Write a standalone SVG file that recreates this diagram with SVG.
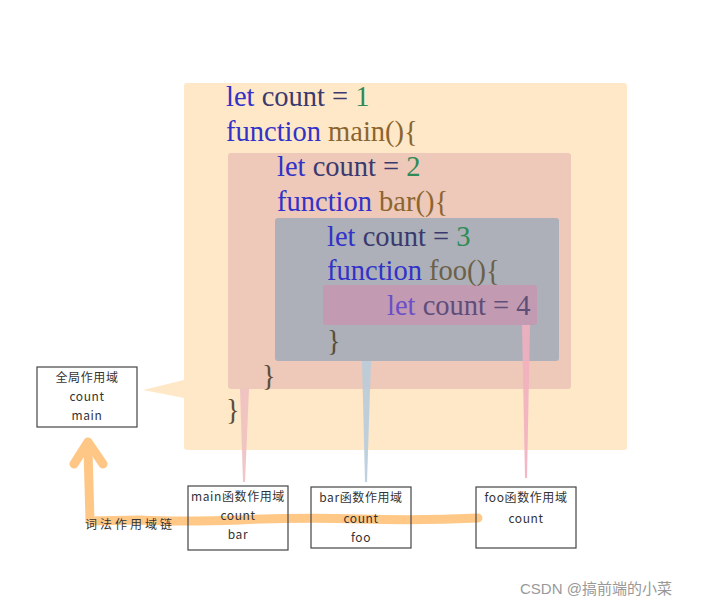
<svg xmlns="http://www.w3.org/2000/svg" width="726" height="608" viewBox="0 0 726 608">
<style>
.code{font-family:"Liberation Serif","Times New Roman",serif;font-size:28.5px}
.kw{fill:#3232C8}
.var{fill:#3A3A6E}
.num{fill:#2E8B57}
.fn{fill:#8B6530}
.br{fill:#5A4E3A}
.hand{font-family:"Noto Sans CJK SC",sans-serif;font-size:12px;fill:#333;text-anchor:middle;letter-spacing:0.6px}
.box{fill:none;stroke:#444;stroke-width:1.2}
</style>
<rect width="726" height="608" fill="#fff"/>
<g id="global-scope">
<rect x="184" y="83" width="443" height="367" rx="3" fill="#FFE8C8"/>
<polygon points="184,380 184,398 143,390" fill="#FFE8C8"/>
</g>
<g id="main-scope">
<rect x="228" y="153" width="343" height="236" rx="3" fill="#EEC8B8"/>
</g>
<g id="bar-scope">
<rect x="275" y="218" width="284" height="143" rx="3" fill="#ADB0B8"/>
</g>
<g id="foo-scope">
<rect x="323" y="285" width="214" height="40" rx="3" fill="#C29AB2"/>
</g>
<g id="code" class="code">
<text x="226" y="106"><tspan class="kw">let</tspan><tspan class="var"> count = </tspan><tspan class="num">1</tspan></text>
<text x="226" y="141"><tspan class="kw">function</tspan><tspan class="fn"> main(){</tspan></text>
<text x="277" y="176"><tspan class="kw">let</tspan><tspan class="var"> count = </tspan><tspan class="num">2</tspan></text>
<text x="277" y="211"><tspan class="kw">function</tspan><tspan class="fn"> bar(){</tspan></text>
<text x="327" y="246"><tspan class="kw">let</tspan><tspan class="var"> count = </tspan><tspan class="num">3</tspan></text>
<text x="327" y="280"><tspan class="kw">function</tspan><tspan fill="#6B6048"> foo(){</tspan></text>
<text x="387" y="315"><tspan fill="#6A4FC8">let</tspan><tspan fill="#5E4E7A"> count = 4</tspan></text>
<text x="327" y="350" class="br">}</text>
<text x="262" y="385" class="br">}</text>
<text x="226" y="419" class="br">}</text>
</g>
<g id="connectors">
<polygon points="240,389 249,389 245,482 243,482" fill="#EEC0C0" opacity="0.9"/>
<polygon points="362,361 371,361 367,482 365,482" fill="#B8CCDC" opacity="0.9"/>
<polygon points="522,325 530,325 527,478 525,478" fill="#F2B0C0" opacity="0.9"/>
<g fill="none" stroke="#FFC27A" stroke-width="9" stroke-linecap="round" stroke-linejoin="round" opacity="0.9">
<path d="M478,518 Q420,521 360,519 Q300,517 240,520 Q180,522 140,520 L90,521 L88,450"/>
<path d="M74,464 L88,442 L103,464"/>
</g>
</g>
<g id="global-box">
<rect class="box" x="37" y="367" width="100" height="60"/>
<text class="hand" x="87" y="382">全局作用域</text>
<text class="hand" x="87" y="401">count</text>
<text class="hand" x="87" y="420">main</text>
</g>
<g id="main-box">
<rect class="box" x="188" y="486" width="100" height="64"/>
<text class="hand" x="238" y="501">main函数作用域</text>
<text class="hand" x="238" y="520">count</text>
<text class="hand" x="238" y="539">bar</text>
</g>
<g id="bar-box">
<rect class="box" x="311" y="487" width="100" height="61"/>
<text class="hand" x="361" y="502">bar函数作用域</text>
<text class="hand" x="361" y="523">count</text>
<text class="hand" x="361" y="542">foo</text>
</g>
<g id="foo-box">
<rect class="box" x="476" y="487" width="100" height="61"/>
<text class="hand" x="526" y="502">foo函数作用域</text>
<text class="hand" x="526" y="523">count</text>
</g>
<g id="chain-label">
<text class="hand" x="130" y="529" style="letter-spacing:3px">词法作用域链</text>
</g>
<text x="520" y="594" font-family="Liberation Sans,'Noto Sans CJK SC',sans-serif" font-size="15" fill="#999">CSDN @搞前端的小菜</text>
</svg>
